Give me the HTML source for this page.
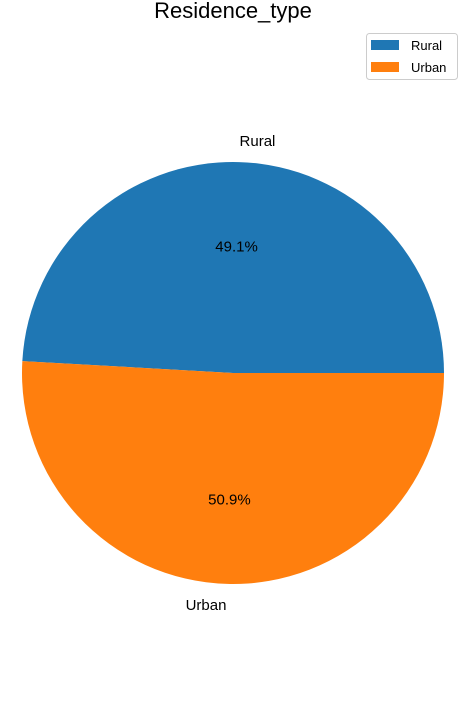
<!DOCTYPE html>
<html><head><meta charset="utf-8"><style>
html,body{margin:0;padding:0;background:#fff;}
svg{display:block;font-family:"Liberation Sans","DejaVu Sans",sans-serif;}
</style></head><body>
<svg id="chart" width="465" height="720" viewBox="0 0 465 720">
<text x="233" y="18" text-anchor="middle" font-size="22" fill="#000">Residence_type</text>
<g id="slices"></g>
<g id="labels"></g>
<g>
<rect x="366.5" y="33.5" width="91" height="46" rx="3" fill="#fff" stroke="#ccc"/>
<g>
<rect x="371" y="40" width="28" height="10" fill="#1f77b4"/>
<text x="411" y="50" font-size="13" fill="#000">Rural</text></g>
<g>
<rect x="371" y="62" width="28" height="10" fill="#ff7f0e"/>
<text x="411" y="72" font-size="13" fill="#000">Urban</text></g>
</g>
</svg>
<script>
const categories = ["Rural", "Urban"];
const shares = [49.1, 50.9];
const colors = ["#1f77b4", "#ff7f0e"];
const cx = 233, cy = 373, r = 211;
const ns = "http://www.w3.org/2000/svg";
const total = shares.reduce((a, b) => a + b, 0);
const sG = document.getElementById("slices"), lG = document.getElementById("labels");
function pt(a, rr) { return [cx + rr * Math.cos(a), cy - rr * Math.sin(a)]; }
let start = 0;
shares.forEach((v, i) => {
  const sweep = v / total * 2 * Math.PI, end = start + sweep;
  const [x1, y1] = pt(start, r), [x2, y2] = pt(end, r);
  const p = document.createElementNS(ns, "path");
  p.setAttribute("d", `M${cx},${cy} L${x1},${y1} A${r},${r} 0 ${sweep > Math.PI ? 1 : 0} 0 ${x2},${y2} Z`);
  p.setAttribute("fill", colors[i]);
  
  
  sG.appendChild(p);
  const mid = start + sweep / 2;
  const [lx, ly] = pt(mid, r * 1.1);
  const t = document.createElementNS(ns, "text");
  t.setAttribute("x", lx); t.setAttribute("y", ly + 5);
  t.setAttribute("text-anchor", Math.cos(mid) < 0 ? "end" : "start");
  t.setAttribute("font-size", "15"); t.textContent = categories[i];
  
  
  lG.appendChild(t);
  const [px, py] = pt(mid, r * 0.6);
  const q = document.createElementNS(ns, "text");
  q.setAttribute("x", px); q.setAttribute("y", py + 5);
  q.setAttribute("text-anchor", "middle"); q.setAttribute("font-size", "15");
  q.textContent = (v / total * 100).toFixed(1) + "%";
  
  
  lG.appendChild(q);
  start = end;
});
</script>
</body></html>
